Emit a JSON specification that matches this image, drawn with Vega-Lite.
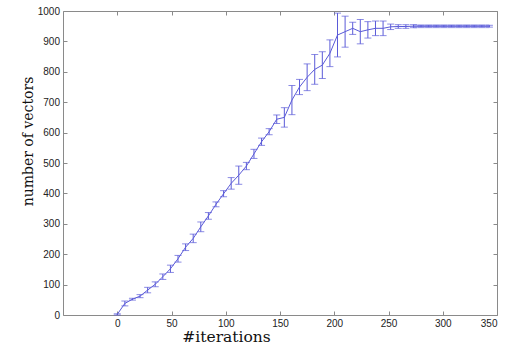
{
  "$schema": "https://vega.github.io/schema/vega-lite/v6.json",
  "width": 434,
  "height": 304,
  "autosize": {"type": "none"},
  "padding": {"left": 63, "top": 11, "right": 12, "bottom": 34},
  "background": "white",
  "data": {"values": [
    {"it": 0, "n": 2, "err": 2},
    {"it": 7, "n": 38, "err": 8},
    {"it": 14, "n": 52, "err": 3},
    {"it": 21, "n": 62, "err": 5},
    {"it": 28, "n": 82, "err": 9},
    {"it": 35, "n": 101, "err": 8},
    {"it": 42, "n": 126, "err": 9},
    {"it": 49, "n": 152, "err": 12},
    {"it": 56, "n": 185, "err": 11},
    {"it": 63, "n": 223, "err": 11},
    {"it": 70, "n": 252, "err": 14},
    {"it": 77, "n": 290, "err": 16},
    {"it": 84, "n": 326, "err": 11},
    {"it": 91, "n": 364, "err": 8},
    {"it": 98, "n": 399, "err": 10},
    {"it": 105, "n": 433, "err": 19},
    {"it": 112, "n": 460, "err": 30},
    {"it": 119, "n": 490, "err": 12},
    {"it": 126, "n": 530, "err": 15},
    {"it": 133, "n": 570, "err": 12},
    {"it": 140, "n": 603, "err": 10},
    {"it": 147, "n": 644, "err": 14},
    {"it": 154, "n": 650, "err": 32},
    {"it": 161, "n": 707, "err": 48},
    {"it": 168, "n": 750, "err": 25},
    {"it": 175, "n": 782, "err": 44},
    {"it": 182, "n": 808, "err": 49},
    {"it": 189, "n": 822, "err": 44},
    {"it": 196, "n": 861, "err": 44},
    {"it": 203, "n": 921, "err": 72},
    {"it": 210, "n": 932, "err": 51},
    {"it": 217, "n": 943, "err": 20},
    {"it": 224, "n": 932, "err": 40},
    {"it": 231, "n": 938, "err": 27},
    {"it": 238, "n": 943, "err": 24},
    {"it": 245, "n": 943, "err": 24},
    {"it": 252, "n": 948, "err": 9},
    {"it": 259, "n": 949, "err": 6},
    {"it": 266, "n": 949, "err": 6},
    {"it": 273, "n": 950, "err": 5},
    {"it": 280, "n": 950, "err": 3},
    {"it": 287, "n": 950, "err": 3},
    {"it": 294, "n": 950, "err": 3},
    {"it": 301, "n": 950, "err": 3},
    {"it": 308, "n": 950, "err": 3},
    {"it": 315, "n": 950, "err": 3},
    {"it": 322, "n": 950, "err": 3},
    {"it": 329, "n": 950, "err": 3},
    {"it": 336, "n": 950, "err": 3},
    {"it": 343, "n": 950, "err": 3}
  ]},
  "config": {
    "view": {"stroke": "#8a8a8a", "strokeWidth": 1},
    "axis": {
      "domain": false,
      "grid": false,
      "tickSize": -4,
      "tickColor": "#8a8a8a",
      "labelFont": "Liberation Sans",
      "labelFontSize": 10,
      "labelColor": "#222",
      "titleFont": "DejaVu Serif",
      "titleFontWeight": "normal",
      "titleColor": "#111"
    }
  },
  "resolve": {"axis": {"x": "independent", "y": "independent"}},
  "layer": [
    {
      "transform": [{"filter": "datum.it >= 273"}],
      "mark": {"type": "line", "color": "#c4c6f2", "strokeWidth": 4},
      "encoding": {
        "x": {"field": "it", "type": "quantitative", "scale": {"domain": [-50, 350], "nice": false},
          "axis": {"orient": "bottom", "values": [0, 50, 100, 150, 200, 250, 300, 350], "format": "d", "title": "#iterations", "labelPadding": 7, "titleFontSize": 15.5, "titleX": 163, "titleY": 26, "titleAlign": "center", "titleBaseline": "alphabetic"}},
        "y": {"field": "n", "type": "quantitative", "scale": {"domain": [0, 1000], "nice": false},
          "axis": {"orient": "left", "values": [0, 100, 200, 300, 400, 500, 600, 700, 800, 900, 1000], "format": "d", "title": "number of vectors", "labelPadding": 7.5, "titleFontSize": 14, "titleX": -31, "titleY": 130, "titleAngle": -90, "titleAlign": "center", "titleBaseline": "alphabetic"}}
      }
    },
    {
      "mark": {"type": "errorbar", "ticks": {"size": 7, "color": "#5a5ad8"}, "color": "#5a5ad8", "thickness": 1},
      "encoding": {
        "x": {"field": "it", "type": "quantitative",
          "axis": {"orient": "top", "values": [0, 50, 100, 150, 200, 250, 300, 350], "labels": false, "title": null}},
        "y": {"field": "n", "type": "quantitative",
          "axis": {"orient": "right", "values": [0, 100, 200, 300, 400, 500, 600, 700, 800, 900, 1000], "labels": false, "title": null}},
        "yError": {"field": "err"}
      }
    },
    {
      "mark": {"type": "line", "color": "#5a5ad8", "strokeWidth": 1},
      "encoding": {
        "x": {"field": "it", "type": "quantitative", "axis": null},
        "y": {"field": "n", "type": "quantitative", "axis": null}
      }
    }
  ]
}
